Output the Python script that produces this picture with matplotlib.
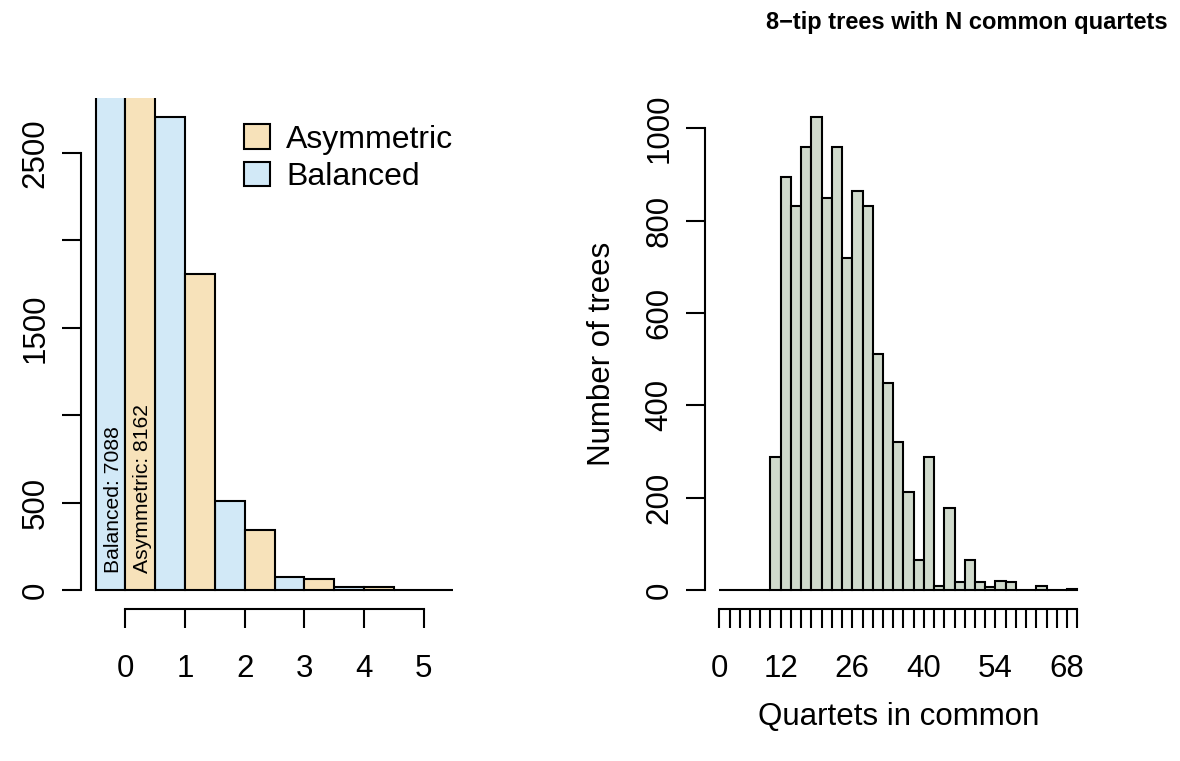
import numpy as np
import matplotlib
matplotlib.use("Agg")
import matplotlib.pyplot as plt
from matplotlib.patches import Patch

plt.rcParams['font.family'] = ['Liberation Sans', 'DejaVu Sans']

# left panel: trees by number of ... (0..5)
n_values = [0, 1, 2, 3, 4, 5]
balanced = [7088, 2705, 508, 73, 19, 2]
asymmetric = [8162, 1808, 346, 61, 16, 2]
col_asym = '#F7E2BA'
col_bal = '#D2E9F7'

# right panel: histogram of quartets in common, bins of width 2 from 0 to 70
bin_edges = list(range(0, 72, 2))
counts = [0, 0, 0, 0, 0, 288, 895, 831, 959, 1024, 848, 959, 719, 864, 831,
          512, 448, 321, 213, 65, 288, 9, 177, 17, 65, 17, 6, 19, 17, 0, 0,
          9, 0, 0, 3]
col_hist = '#D0DACC'
x_labels_shown = [0, 12, 26, 40, 54, 68]

LW = 1.5
TICK_FS = 22.5
LAB_FS = 22.5

fig = plt.figure(figsize=(11.8, 7.61), dpi=100)
W, H = 1180, 761


def r_axes(rect_px):
    l, t, r, b = rect_px
    return fig.add_axes([l / W, (H - b) / H, (r - l) / W, (b - t) / H])


def r_style(ax):
    for s in ['top', 'right']:
        ax.spines[s].set_visible(False)
    for s in ['left', 'bottom']:
        ax.spines[s].set_linewidth(LW)
    ax.tick_params(direction='out', length=14, width=LW, labelsize=TICK_FS)
    ax.tick_params(axis='x', pad=18.5)
    ax.tick_params(axis='y', pad=8)
    for lab in ax.get_yticklabels():
        lab.set_rotation(90)
        lab.set_va('center')


# ---- left panel ----
ax1 = r_axes((81.3, 98.3, 467.7, 609))
x = np.array(n_values)
ax1.bar(x - 0.25, balanced, width=0.5, color=col_bal, edgecolor='black', linewidth=LW)
ax1.bar(x + 0.25, asymmetric, width=0.5, color=col_asym, edgecolor='black', linewidth=LW)
ymax1 = max(balanced[1:] + asymmetric[1:])
ax1.set_xlim(-0.5 - 0.24, 5.5 + 0.24)
ax1.set_ylim(-0.04 * ymax1, 1.04 * ymax1)
ax1.spines['left'].set_bounds(0, 2500)
ax1.spines['bottom'].set_bounds(0, 5)
ax1.set_xticks(n_values)
ax1.set_xticklabels([str(v) for v in n_values])
ax1.set_yticks(range(0, 3000, 500))
ax1.set_yticklabels(['0', '500', '', '1500', '', '2500'])
r_style(ax1)

ax1.text(-0.2, 100, 'Balanced: %d' % balanced[0], rotation=90, ha='center', va='bottom',
         fontsize=15.2)
ax1.text(0.29, 100, 'Asymmetric: %d' % asymmetric[0], rotation=90, ha='center', va='bottom',
         fontsize=15.2)

handles = [Patch(facecolor=col_asym, edgecolor='black', linewidth=LW),
           Patch(facecolor=col_bal, edgecolor='black', linewidth=LW)]
ax1.legend(handles, ['Asymmetric', 'Balanced'], loc='upper left',
           bbox_to_anchor=((244 - 81.3) / (467.7 - 81.3), 1 - (124 - 98.3) / (609 - 98.3)),
           frameon=False, fontsize=23, handlelength=0.82, handleheight=0.82,
           handletextpad=0.5, labelspacing=0.22, borderpad=0, borderaxespad=0)

# ---- right panel ----
ax2 = r_axes((705, 98.3, 1091.6, 609))
edges = np.array(bin_edges)
ax2.bar(edges[:-1], counts, width=np.diff(edges), align='edge', color=col_hist,
        edgecolor='black', linewidth=LW)
ax2.set_xlim(-0.04 * 70, 70 * 1.04)
ymax2 = max(counts)
ax2.set_ylim(-0.04 * ymax2, 1.04 * ymax2)
ax2.spines['left'].set_bounds(0, 1000)
ax2.spines['bottom'].set_bounds(0, 70)
ax2.set_xticks(bin_edges)
ax2.set_xticklabels([str(v) if v in x_labels_shown else '' for v in bin_edges])
ax2.set_yticks(range(0, 1200, 200))
ax2.set_yticklabels([str(v) for v in range(0, 1200, 200)])
r_style(ax2)
ax2.set_ylabel('Number of trees', fontsize=LAB_FS, labelpad=20)
ax2.set_xlabel('Quartets in common', fontsize=LAB_FS, labelpad=13)

fig.text(967 / W, 1 - 23 / H, '8\u2212tip trees with N common quartets',
         ha='center', va='center', fontsize=17, fontweight='bold')

fig.savefig('out.png', dpi=100)
